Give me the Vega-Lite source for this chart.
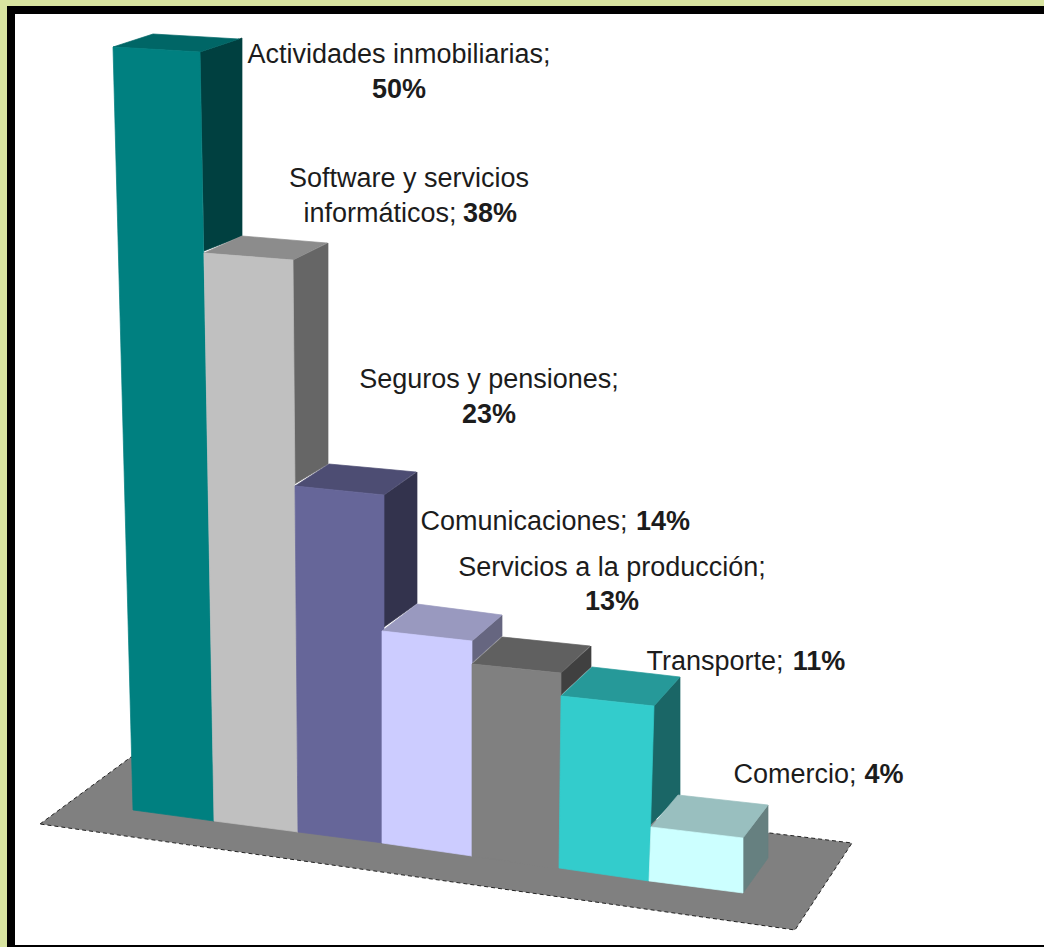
{
"$schema":"https://vega.github.io/schema/vega-lite/v6.json",
"width":1044,"height":947,"padding":0,"autosize":{"type":"fit","contains":"padding"},
"background":"#d8e4a0",
"view":{"stroke":null},
"config":{"text":{"font":"Liberation Sans"}},
"datasets":{
"caras":[
{"cara":"marco","x":7,"y":6,"y2":947},{"cara":"marco","x":1044,"y":6,"y2":947},
{"cara":"hoja","x":15,"y":14,"y2":945},{"cara":"hoja","x":1044,"y":14,"y2":945},
{"cara":"a_lado","x":200,"y":52,"y2":52},{"cara":"a_lado","x":204,"y":50.7,"y2":251},{"cara":"a_lado","x":239,"y":39,"y2":237.2},{"cara":"a_lado","x":242,"y":38,"y2":236},
{"cara":"a_techo","x":113,"y":47,"y2":47},{"cara":"a_techo","x":153,"y":34,"y2":49.3},{"cara":"a_techo","x":200,"y":36.7,"y2":52},{"cara":"a_techo","x":239,"y":39,"y2":39},
{"cara":"a_frente","x":113,"y":47,"y2":47},{"cara":"a_frente","x":133,"y":48.1,"y2":810},{"cara":"a_frente","x":200,"y":52,"y2":819.1},{"cara":"a_frente","x":214,"y":821,"y2":821},
{"cara":"b_lado","x":293,"y":260,"y2":485},{"cara":"b_lado","x":328,"y":243,"y2":464},
{"cara":"b_techo","x":204,"y":253,"y2":253},{"cara":"b_techo","x":242,"y":236,"y2":256},{"cara":"b_techo","x":293,"y":240.2,"y2":260},{"cara":"b_techo","x":327,"y":243,"y2":243},
{"cara":"b_frente","x":204,"y":253,"y2":253},{"cara":"b_frente","x":214,"y":253.8,"y2":821},{"cara":"b_frente","x":293,"y":260,"y2":831.3},{"cara":"b_frente","x":298,"y":832,"y2":832},
{"cara":"c_lado","x":384,"y":495,"y2":627},{"cara":"c_lado","x":417,"y":472,"y2":603.5},
{"cara":"c_techo","x":295,"y":486,"y2":486},{"cara":"c_techo","x":329,"y":464,"y2":489.4},{"cara":"c_techo","x":384,"y":469,"y2":495},{"cara":"c_techo","x":416,"y":472,"y2":472},
{"cara":"c_frente","x":295,"y":486,"y2":486},{"cara":"c_frente","x":298,"y":486.3,"y2":832},{"cara":"c_frente","x":383,"y":494.9,"y2":843},{"cara":"c_frente","x":384,"y":495,"y2":843},
{"cara":"d_lado","x":472,"y":641,"y2":663},{"cara":"d_lado","x":502,"y":615,"y2":636},
{"cara":"d_techo","x":382,"y":631,"y2":631},{"cara":"d_techo","x":417,"y":604,"y2":634.9},{"cara":"d_techo","x":472,"y":611.1,"y2":641},{"cara":"d_techo","x":502,"y":615,"y2":615},
{"cara":"d_frente","x":382,"y":631,"y2":843},{"cara":"d_frente","x":472,"y":641,"y2":856},
{"cara":"e_lado","x":561,"y":673,"y2":695},{"cara":"e_lado","x":591,"y":646,"y2":667},
{"cara":"e_techo","x":472,"y":664,"y2":664},{"cara":"e_techo","x":502,"y":637,"y2":667},{"cara":"e_techo","x":561,"y":643,"y2":673},{"cara":"e_techo","x":590,"y":646,"y2":646},
{"cara":"e_frente","x":472,"y":664,"y2":856},{"cara":"e_frente","x":561,"y":673,"y2":869},
{"cara":"f_lado","x":648,"y":712.4,"y2":827},{"cara":"f_lado","x":680,"y":677,"y2":795},
{"cara":"f_techo","x":561,"y":696,"y2":696},{"cara":"f_techo","x":592,"y":667,"y2":699.3},{"cara":"f_techo","x":654,"y":674,"y2":706},{"cara":"f_techo","x":680,"y":677,"y2":677},
{"cara":"f_frente","x":559,"y":868,"y2":868},{"cara":"f_frente","x":561,"y":696,"y2":868.3},{"cara":"f_frente","x":649,"y":705.5,"y2":881},{"cara":"f_frente","x":654,"y":706,"y2":706},
{"cara":"g_lado","x":743,"y":838,"y2":893},{"cara":"g_lado","x":768,"y":805,"y2":858},
{"cara":"g_techo","x":651,"y":827,"y2":827},{"cara":"g_techo","x":678,"y":795,"y2":830.2},{"cara":"g_techo","x":743,"y":802.2,"y2":838},{"cara":"g_techo","x":768,"y":805,"y2":805},
{"cara":"g_frente","x":649,"y":881,"y2":881},{"cara":"g_frente","x":651,"y":827,"y2":881.2},{"cara":"g_frente","x":743,"y":838,"y2":893}
],
"suelo":[{"x":40,"y":824,"y2":824},{"x":131,"y":757,"y2":836.8},{"x":795,"y":836,"y2":930},{"x":852,"y":843,"y2":843}],
"rotulos":[
{"texto":"Actividades inmobiliarias;","x":399,"y":55},
{"texto":"Software y servicios","x":409,"y":179},
{"texto":"informáticos;","x":380,"y":214},
{"texto":"Seguros y pensiones;","x":489,"y":380},
{"texto":"Comunicaciones;","x":524,"y":522},
{"texto":"Servicios a la producción;","x":612,"y":568},
{"texto":"Transporte;","x":715,"y":662},
{"texto":"Comercio;","x":795,"y":775}
],
"valores":[
{"categoria":"Actividades inmobiliarias","valor":0.50,"x":399,"y":90},
{"categoria":"Software y servicios informáticos","valor":0.38,"x":490,"y":214},
{"categoria":"Seguros y pensiones","valor":0.23,"x":489,"y":415},
{"categoria":"Comunicaciones","valor":0.14,"x":663,"y":522},
{"categoria":"Servicios a la producción","valor":0.13,"x":612,"y":602},
{"categoria":"Transporte","valor":0.11,"x":819,"y":662},
{"categoria":"Comercio","valor":0.04,"x":884,"y":775}
]
},
"encoding":{
"x":{"field":"x","type":"quantitative","scale":{"domain":[0,1044],"nice":false,"zero":false},"axis":null},
"y":{"field":"y","type":"quantitative","stack":null,"scale":{"domain":[0,947],"reverse":true,"nice":false,"zero":false},"axis":null}
},
"layer":[
{"data":{"name":"caras"},"transform":[{"filter":"datum.cara=='marco'||datum.cara=='hoja'"}],
 "mark":{"type":"area","orient":"vertical"},
 "encoding":{"y2":{"field":"y2"},"detail":{"field":"cara"},
  "color":{"field":"cara","type":"nominal","legend":null,"sort":null,"scale":{"domain":["marco","hoja"],"range":["#000000","#ffffff"]}}}},
{"data":{"name":"suelo"},
 "mark":{"type":"area","orient":"vertical","color":"#808080","stroke":"#222222","strokeWidth":1,"strokeDash":[4,3]},
 "encoding":{"y2":{"field":"y2"}}},
{"data":{"name":"caras"},"transform":[{"filter":"datum.cara!='marco'&&datum.cara!='hoja'"}],
 "mark":{"type":"area","orient":"vertical","strokeWidth":0.7},
 "encoding":{"y2":{"field":"y2"},"detail":{"field":"cara"},
  "stroke":{"field":"cara","type":"nominal","legend":null,"scale":{
   "domain":["a_lado","a_techo","a_frente","b_lado","b_techo","b_frente","c_lado","c_techo","c_frente","d_lado","d_techo","d_frente","e_lado","e_techo","e_frente","f_lado","f_techo","f_frente","g_lado","g_techo","g_frente"],
   "range":["#004040","#006666","#008080","#666666","#8c8c8c","#c0c0c0","#33334d","#4d4d73","#666699","#666680","#9999bf","#ccccff","#404040","#606060","#808080","#1a6666","#269999","#33cccc","#668080","#99bfbf","#ccffff"]}},
  "color":{"field":"cara","type":"nominal","legend":null,"scale":{
   "domain":["a_lado","a_techo","a_frente","b_lado","b_techo","b_frente","c_lado","c_techo","c_frente","d_lado","d_techo","d_frente","e_lado","e_techo","e_frente","f_lado","f_techo","f_frente","g_lado","g_techo","g_frente"],
   "range":["#004040","#006666","#008080","#666666","#8c8c8c","#c0c0c0","#33334d","#4d4d73","#666699","#666680","#9999bf","#ccccff","#404040","#606060","#808080","#1a6666","#269999","#33cccc","#668080","#99bfbf","#ccffff"]}}}},
{"data":{"name":"rotulos"},
 "mark":{"type":"text","font":"Liberation Sans","fontSize":27,"color":"#1c1c1c","align":"center","baseline":"middle"},
 "encoding":{"text":{"field":"texto"}}},
{"data":{"name":"valores"},
 "mark":{"type":"text","font":"Liberation Sans","fontSize":27,"fontWeight":"bold","color":"#1c1c1c","align":"center","baseline":"middle"},
 "encoding":{"text":{"field":"valor","type":"quantitative","format":".0%"}}}
],
"resolve":{"scale":{"color":"independent","stroke":"independent"}}
}
